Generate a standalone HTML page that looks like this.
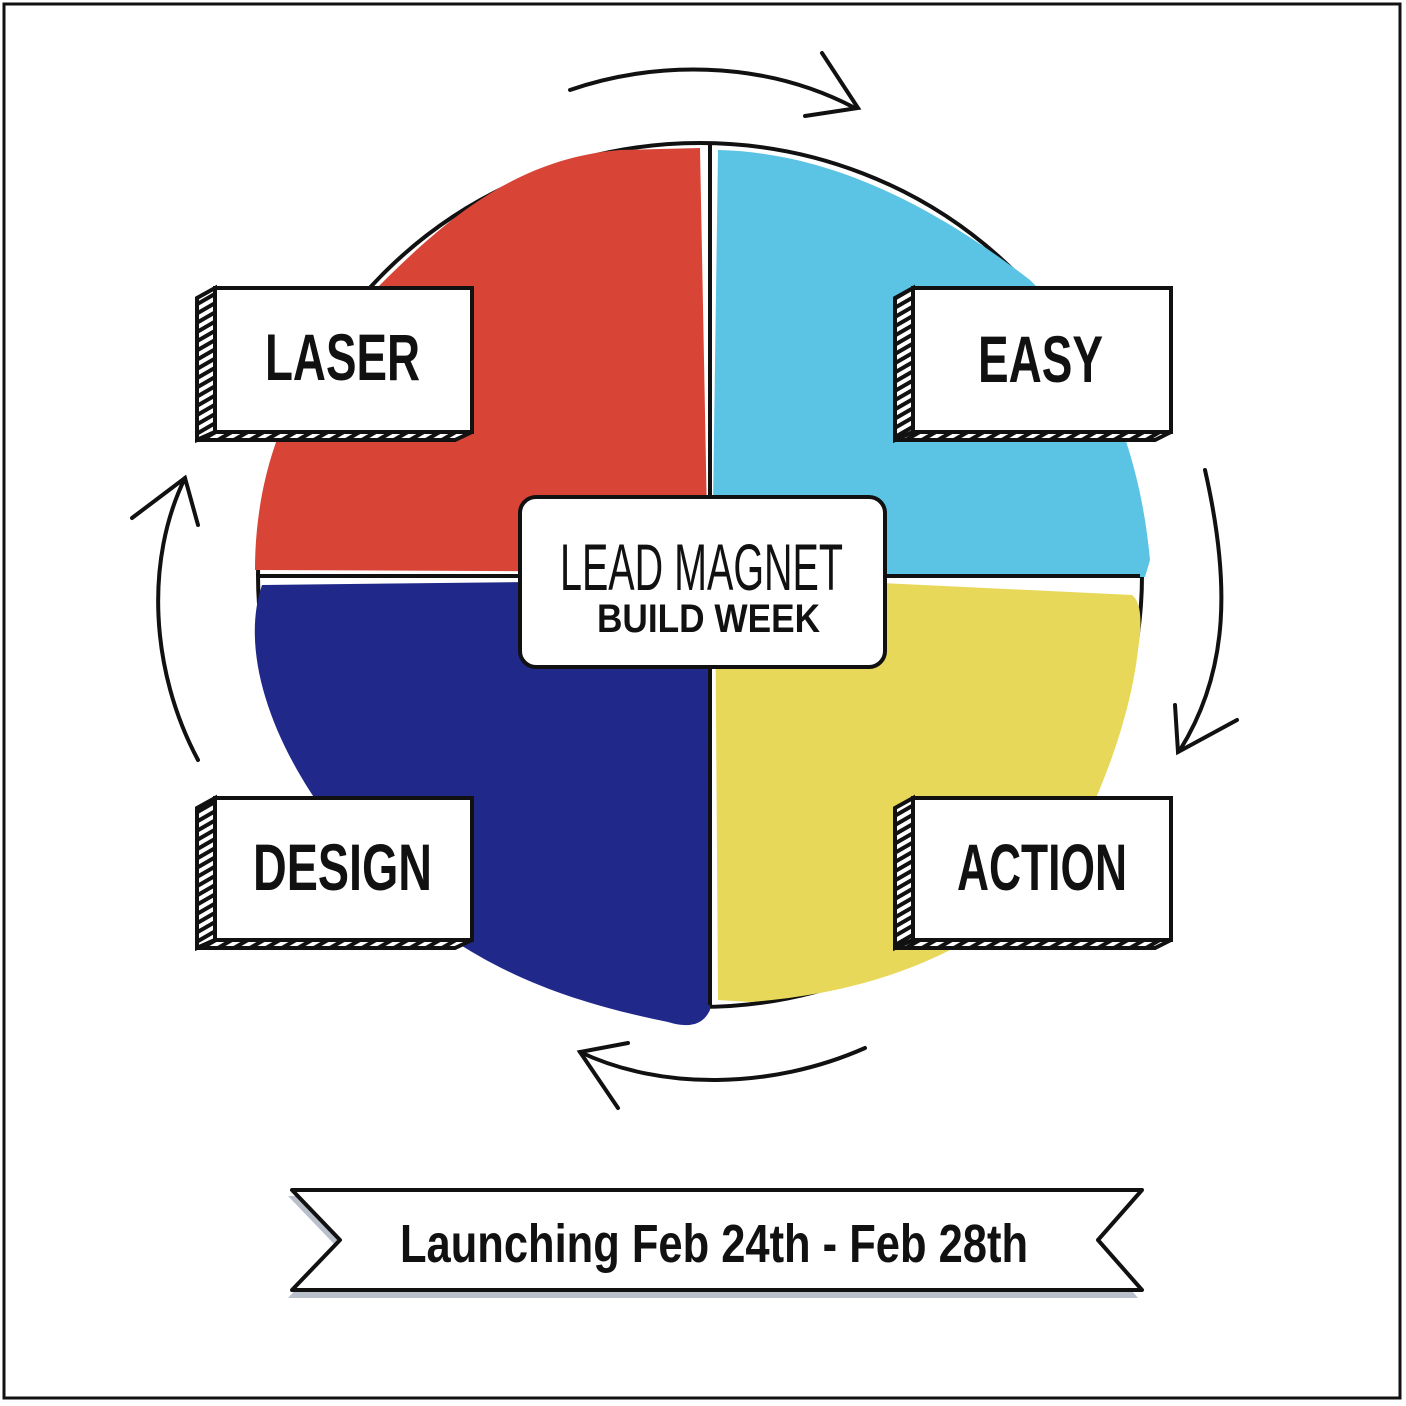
<!DOCTYPE html>
<html><head><meta charset="utf-8"><style>
html,body{margin:0;padding:0;background:#fff}
svg{display:block}
text{font-family:"Liberation Sans",sans-serif;font-weight:bold;fill:#111}
</style></head><body>
<svg width="1406" height="1406" viewBox="0 0 1406 1406" xmlns="http://www.w3.org/2000/svg">
<defs>
<pattern id="hatch" width="8" height="8" patternUnits="userSpaceOnUse" patternTransform="rotate(-30)">
<rect width="8" height="8" fill="#fff"/><rect width="8" height="4" fill="#111"/></pattern>
</defs>
<rect x="4" y="4" width="1396" height="1394" fill="#fff" stroke="#111" stroke-width="3"/>
<ellipse cx="700" cy="575" rx="442" ry="432" fill="none" stroke="#111" stroke-width="4"/>
<path d="M255,570 C255,470 290,370 380,285 C450,215 520,158 620,150 L700,148 L708,572 Z" fill="#D84537"/>
<path d="M718,150 C800,152 900,180 1030,280 C1100,350 1140,450 1150,560 L1145,577 L712,577 Z" fill="#5BC3E4"/>
<path d="M262,585 L712,580 L710,1010 Q700,1032 668,1022 C560,1000 430,960 330,820 C270,740 240,650 262,585 Z" fill="#20288A"/>
<path d="M715,575 L1132,595 Q1145,605 1138,650 C1130,720 1100,800 1060,870 C980,950 880,992 750,1002 L718,1000 Z" fill="#E8D85A"/>
<line x1="710" y1="145" x2="710" y2="1005" stroke="#111" stroke-width="4"/>
<line x1="260" y1="576" x2="1140" y2="576" stroke="#111" stroke-width="4"/>
<g stroke="#111" stroke-width="4">
<g>
<polygon points="197,298 215,288 215,432 197,440" fill="url(#hatch)"/>
<polygon points="197,440 215,432 472,432 455,440" fill="url(#hatch)"/>
<rect x="215" y="288" width="257" height="144" fill="#fff"/>
</g>
<g>
<polygon points="895,298 913,288 913,432 895,440" fill="url(#hatch)"/>
<polygon points="895,440 913,432 1171,432 1155,440" fill="url(#hatch)"/>
<rect x="913" y="288" width="258" height="144" fill="#fff"/>
</g>
<g>
<polygon points="197,808 215,798 215,940 197,948" fill="url(#hatch)"/>
<polygon points="197,948 215,940 472,940 455,948" fill="url(#hatch)"/>
<rect x="215" y="798" width="257" height="142" fill="#fff"/>
</g>
<g>
<polygon points="895,808 913,798 913,940 895,948" fill="url(#hatch)"/>
<polygon points="895,948 913,940 1171,940 1155,948" fill="url(#hatch)"/>
<rect x="913" y="798" width="258" height="142" fill="#fff"/>
</g>
<rect x="520" y="497" width="365" height="170" rx="16" fill="#fff"/>
</g>
<text x="265" y="380" font-size="66" textLength="155" lengthAdjust="spacingAndGlyphs">LASER</text>
<text x="978" y="382" font-size="66" textLength="125" lengthAdjust="spacingAndGlyphs">EASY</text>
<text x="253" y="890" font-size="66" textLength="179" lengthAdjust="spacingAndGlyphs">DESIGN</text>
<text x="957" y="890" font-size="66" textLength="170" lengthAdjust="spacingAndGlyphs">ACTION</text>
<text x="560" y="590" font-size="66" style="font-weight:normal" textLength="283" lengthAdjust="spacingAndGlyphs">LEAD MAGNET</text>
<text x="597" y="632" font-size="40" textLength="223" lengthAdjust="spacingAndGlyphs">BUILD WEEK</text>
<g fill="none" stroke="#111" stroke-width="4" stroke-linecap="round">
<path d="M570,90 C650,62 760,58 855,108"/>
<path d="M822,53 L858,108 L805,116"/>
<path d="M1205,470 C1230,580 1230,670 1180,750"/>
<path d="M1175,705 L1178,752 L1237,720"/>
<path d="M865,1048 C770,1090 660,1090 580,1052"/>
<path d="M628,1043 L580,1052 L618,1108"/>
<path d="M198,760 C150,670 145,560 185,478"/>
<path d="M132,518 L185,478 L198,525"/>
</g>
<polygon points="288,1196 1138,1196 1094,1246 1138,1298 288,1298 336,1246" fill="#B9C0CC"/>
<polygon points="292,1190 1142,1190 1098,1240 1142,1290 292,1290 340,1240" fill="#fff" stroke="#111" stroke-width="4" stroke-linejoin="round"/>
<text x="400" y="1262" font-size="54" textLength="628" lengthAdjust="spacingAndGlyphs">Launching Feb 24th - Feb 28th</text>
</svg>
</body></html>
